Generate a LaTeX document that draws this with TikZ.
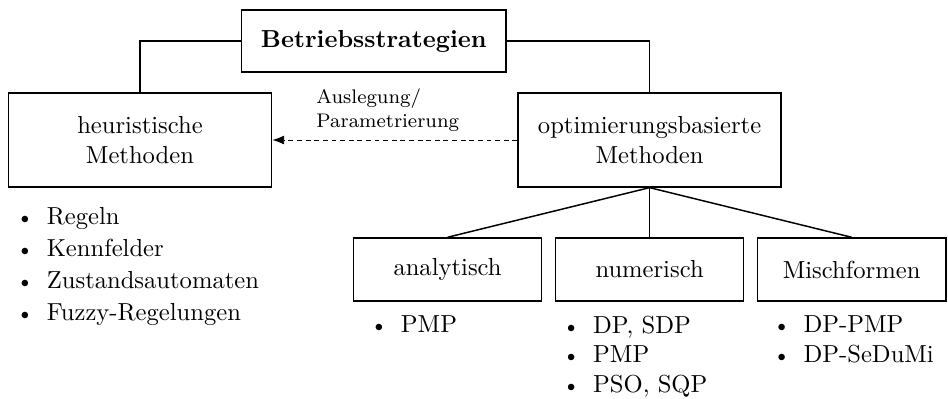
\documentclass[tikz,border=0pt]{standalone}
\usetikzlibrary{arrows.meta,positioning,calc}
\newcommand{\bul}{\makebox[12.5pt][l]{\small\textbullet}}

\begin{document}
\begin{tikzpicture}[
  >=Latex,
  line width=0.6pt,
  node distance=1.75mm,
  box/.style={draw, fill=white, align=center, inner xsep=0.28cm, minimum width=3.76cm, minimum height=1.34cm},
  boxTop/.style={box, font=\bfseries, minimum height=0.886cm},
  boxSmall/.style={draw, inner xsep=0.28cm, minimum width=2.69cm, minimum height=0.9cm},
  liste/.style={align=left, inner sep=0pt, anchor=north west},
  arrow/.style={-{Latex[length=1.7mm, width=1.3mm]}, line width=0.4pt, dash pattern=on 2pt off 1.5pt},
]
\useasboundingbox (0,0) rectangle (13.543,-5.686);

% --- Oberste Ebene ---
\node[boxTop] (bs) at (5.34,-0.586) {Betriebsstrategien};
\node[box] (heur) at (2.0,-2.0) {heuristische\\Methoden};
\node[box] (opt) at (9.28,-2.0) {optimierungsbasierte\\Methoden};

\draw (bs.west) -| (heur.north);
\draw (bs.east) -| (opt.north);
\draw[arrow] (opt.west) -- node[above, xshift=-0.1cm, align=left, font=\footnotesize] {Auslegung/\\Parametrierung} (heur.east);

\node[liste] (heurListe) at ($(heur.south west)+(0.11,-0.27)$) {\bul Regeln\\[1pt]\bul Kennfelder\\[1pt]\bul Zustandsautomaten\\[1pt]\bul Fuzzy-Regelungen};

% --- Unterteilung optimierungsbasiert ---
\node[boxSmall] (num) at (9.28,-3.85) {numerisch};
\node[boxSmall, left=of num] (ana) {analytisch};
\node[boxSmall, right=of num] (misch) {Mischformen};

\draw (opt.south) -- (ana.north);
\draw (opt.south) -- (num.north);
\draw (opt.south) -- (misch.north);

\node[liste] (anaListe) at ($(ana.south west)+(0.24,-0.19)$) {\bul PMP};
\node[liste] (numListe) at ($(num.south west)+(0.1,-0.19)$) {\bul DP, SDP\\\bul PMP\\\bul PSO, SQP};
\node[liste] (mischListe) at ($(misch.south west)+(0.22,-0.19)$) {\bul DP-PMP\\\bul DP-SeDuMi};

\end{tikzpicture}
\end{document}
